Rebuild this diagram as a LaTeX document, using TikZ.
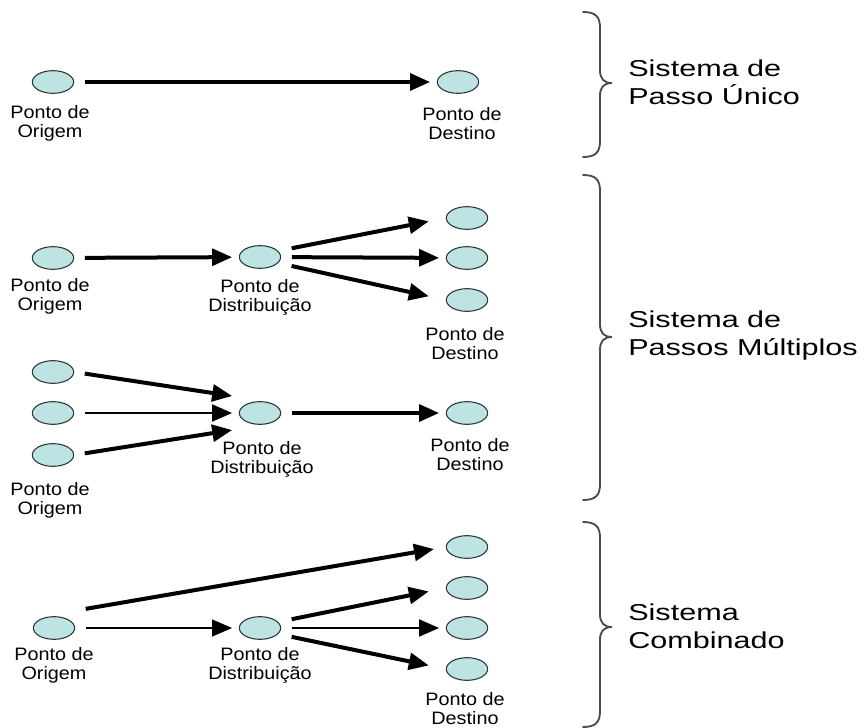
\documentclass[tikz,border=0pt]{standalone}
\usepackage{fontspec}
\setmainfont{Liberation Sans}
\newfontfamily\lblfont{Liberation Sans}[FakeStretch=1.1]
\newfontfamily\bigfont{Liberation Sans}[FakeStretch=1.33]
\usetikzlibrary{arrows.meta,shapes.geometric}
\definecolor{ptfill}{HTML}{BDE3E3}
\definecolor{ptdraw}{HTML}{2A3636}
\newcommand\sysbrace[3]{%
  \draw[brace] (583,#1) .. controls (596,#1) and (600,#1+5) .. (600,#1+16)
    -- (600,#2-13) .. controls (600,#2-4) and (604,#2) .. (612,#2)
    .. controls (604,#2) and (600,#2+4) .. (600,#2+13)
    -- (600,#3-16) .. controls (600,#3-5) and (596,#3) .. (583,#3);}
\begin{document}
\begin{tikzpicture}[x=0.75pt,y=-0.75pt,
  pt/.style={ellipse,draw=ptdraw,fill=ptfill,line width=0.8pt,minimum width=31pt,minimum height=17pt,inner sep=0pt},
  lbl/.style={anchor=north,align=center,inner sep=0pt,font=\lblfont\fontsize{13.5}{14.5}\selectfont},
  sys/.style={anchor=north west,align=left,inner sep=0pt,font=\bigfont\fontsize{17.25}{21}\selectfont},
  arr/.style={line width=3pt,-{Triangle[length=15pt,width=12.5pt]},shorten <=8pt,shorten >=5pt},
  arrm/.style={arr,line width=2.2pt},
  arrt/.style={arr,line width=1.6pt},
  far/.style={shorten >=13pt},
  brace/.style={line width=1.4pt,draw=black!70,line cap=round}]
\useasboundingbox (0,0) rectangle (865,728);
\clip (0,0) rectangle (865,728);

% ---- Sistema de Passo Unico
\node[pt] (o1) at (53,82) {};
\node[pt] (d1) at (458,82) {};
\node[lbl] (lo1) at (50,105) {Ponto de\\Origem};
\node[lbl] (ld1) at (462,107) {Ponto de\\Destino};
\draw[arr] (o1) -- (d1);

% ---- Passos Multiplos (a)
\node[pt] (o2) at (53,258) {};
\node[pt] (dist) at (260,257) {};
\node[pt] (da) at (467,218) {};
\node[pt] (db) at (467,258) {};
\node[pt] (dc) at (467,300) {};
\node[lbl] (lo2) at (50,278) {Ponto de\\Origem};
\node[lbl] (ldist) at (260,279) {Ponto de\\Distribuição};
\node[lbl] (ldd) at (465,327) {Ponto de\\Destino};
\draw[arr] (o2) -- (dist);
\draw[arr,far] ([yshift=5pt]dist.east) -- (da.west);
\draw[arr] (dist) -- (db);
\draw[arr,far] ([yshift=-5pt]dist.east) -- (dc.west);

% ---- Passos Multiplos (b)
\node[pt] (oa) at (53,372) {};
\node[pt] (ob) at (53,413) {};
\node[pt] (oc) at (53,455) {};
\node[pt] (dist2) at (260,413) {};
\node[pt] (d2) at (467,413) {};
\node[lbl] (loa) at (50,482) {Ponto de\\Origem};
\node[lbl] (ldist2) at (262,441) {Ponto de\\Distribuição};
\node[lbl] (ld2) at (470,438) {Ponto de\\Destino};
\draw[arr] (oa.east) -- ([yshift=12pt]dist2.west);
\draw[arrm] (ob) -- (dist2);
\draw[arr] (oc.east) -- ([yshift=-12pt]dist2.west);
\draw[arr] (dist2) -- (d2);

% ---- Sistema Combinado
\node[pt] (o3) at (54,628) {};
\node[pt] (dist3) at (260,628) {};
\node[pt] (d3a) at (467,547) {};
\node[pt] (d3b) at (467,588) {};
\node[pt] (d3c) at (467,628) {};
\node[pt] (d3d) at (467,669) {};
\node[lbl] (lo3) at (54,647) {Ponto de\\Origem};
\node[lbl] (ldist3) at (260,647) {Ponto de\\Distribuição};
\node[lbl] (ld3) at (465,692) {Ponto de\\Destino};
\draw[arrt] (o3) -- (dist3);
\draw[arr,shorten >=9pt] ([yshift=13pt]o3.east) -- (d3a.west);
\draw[arr,far] ([yshift=5pt]dist3.east) -- (d3b.west);
\draw[arrm] (dist3) -- (d3c);
\draw[arr,far] ([yshift=-5pt]dist3.east) -- (d3d.west);

% ---- braces and system names
\sysbrace{12}{83}{157}
\sysbrace{175}{337}{500}
\sysbrace{522}{627}{727}
\node[sys] (s1) at (628,60) {Sistema de\\Passo Único};
\node[sys] (s2) at (628,311) {Sistema de\\Passos Múltiplos};
\node[sys] (s3) at (628,604) {Sistema\\Combinado};
\end{tikzpicture}
\end{document}
